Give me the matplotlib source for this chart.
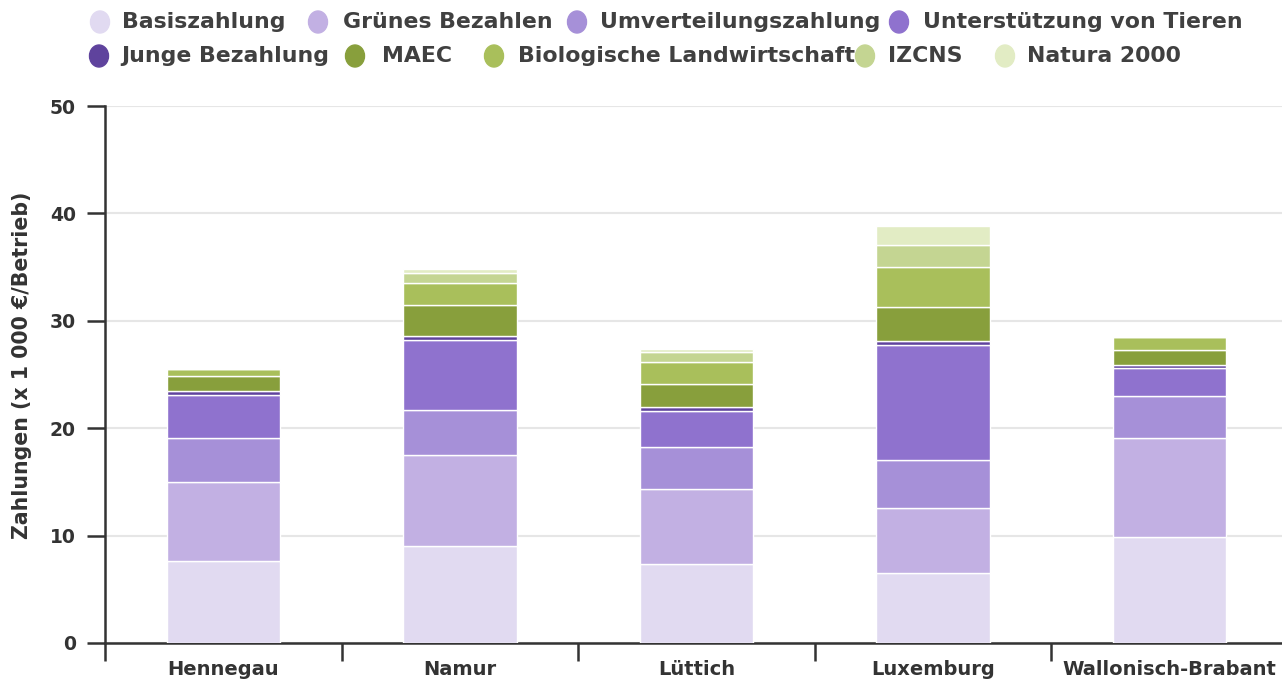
import matplotlib.pyplot as plt
from matplotlib.patches import Ellipse
import numpy as np

# categories and stacked values (x 1 000 EUR per farm)
categories = ["Hennegau", "Namur", "Lüttich", "Luxemburg", "Wallonisch-Brabant"]
basis = [7.65, 9.05, 7.37, 6.53, 9.89]
gruen = [7.37, 8.5, 7.0, 6.07, 9.23]
umvert = [4.1, 4.1, 3.9, 4.47, 3.92]
tiere = [4.0, 6.6, 3.3, 10.66, 2.61]
junge = [0.35, 0.3, 0.37, 0.35, 0.25]
maec = [1.35, 2.96, 2.2, 3.2, 1.4]
bio = [0.65, 2.0, 2.05, 3.72, 1.18]
izcns = [0, 0.9, 0.87, 2.09, 0]
natura = [0, 0.45, 0.28, 1.71, 0]

series_names = ["Basiszahlung", "Grünes Bezahlen", "Umverteilungszahlung",
                "Unterstützung von Tieren", "Junge Bezahlung", "MAEC",
                "Biologische Landwirtschaft", "IZCNS", "Natura 2000"]
series_values = [basis, gruen, umvert, tiere, junge, maec, bio, izcns, natura]
colors = ["#e1daf1", "#c2b0e3", "#a690d8", "#8f72ce", "#5f439d",
          "#889f3c", "#a9bf5b", "#c4d592", "#e2ecc4"]

txt = "#333333"
W, H = 1282, 682
fig = plt.figure(figsize=(W / 100, H / 100), dpi=100)
ax = fig.add_axes([105 / W, (H - 643) / H, 1183 / W, (643 - 106) / H])

x = np.arange(len(categories))
bottom = np.zeros(len(categories))
for name, vals, c in zip(series_names, series_values, colors):
    ax.bar(x, vals, 0.48, bottom=bottom, color=c, edgecolor="white",
           linewidth=1, zorder=3)
    bottom += np.array(vals)

ax.set_xlim(-0.5, len(categories) - 0.5)
ax.set_ylim(0, 50)
ax.set_yticks([0, 10, 20, 30, 40, 50])
ax.yaxis.grid(True, color="#e6e6e6", linewidth=1.5, zorder=0)
ax.set_xticks(x)
ax.set_xticklabels(categories)
ax.set_xticks(np.arange(len(categories)) - 0.5, minor=True)
ax.tick_params(axis="x", which="major", length=0, pad=12)
ax.tick_params(axis="x", which="minor", length=13, width=1.8, color=txt)
ax.tick_params(axis="y", length=13, width=1.8, color=txt, pad=8)
for lab in ax.get_xticklabels():
    lab.set_fontsize(14)
for lab in ax.get_yticklabels():
    lab.set_fontsize(13.5)
for lab in ax.get_xticklabels() + ax.get_yticklabels():
    lab.set_fontweight("bold")
    lab.set_color(txt)
for s in ["top", "right"]:
    ax.spines[s].set_visible(False)
for s in ["left", "bottom"]:
    ax.spines[s].set_color(txt)
    ax.spines[s].set_linewidth(1.8)
ax.set_ylabel("Zahlungen (x 1 000 €/Betrieb)", fontsize=14.8,
              fontweight="bold", color=txt)
ax.yaxis.set_label_coords((32 - 105) / 1183, (643 - 365) / 537)

# legend laid out like the original (flowing rows)
lg = fig.add_axes([0, 0, 1, 1], facecolor="none")
lg.set_xlim(0, W)
lg.set_ylim(H, 0)
lg.axis("off")
marker_x = [100, 318, 577, 899, 99, 355, 494, 865, 1005]
text_x = [122, 343, 600, 923, 121, 382, 518, 888, 1027]
row_y = [22, 22, 22, 22, 56, 56, 56, 56, 56]
for name, c, mx, tx, ry in zip(series_names, colors, marker_x, text_x, row_y):
    lg.add_patch(Ellipse((mx, ry), 19, 22, color=c))
    lg.text(tx, ry, name, fontsize=15.8, fontweight="bold", color="#404040",
            va="center", ha="left")

fig.savefig("out.png", dpi=100)
